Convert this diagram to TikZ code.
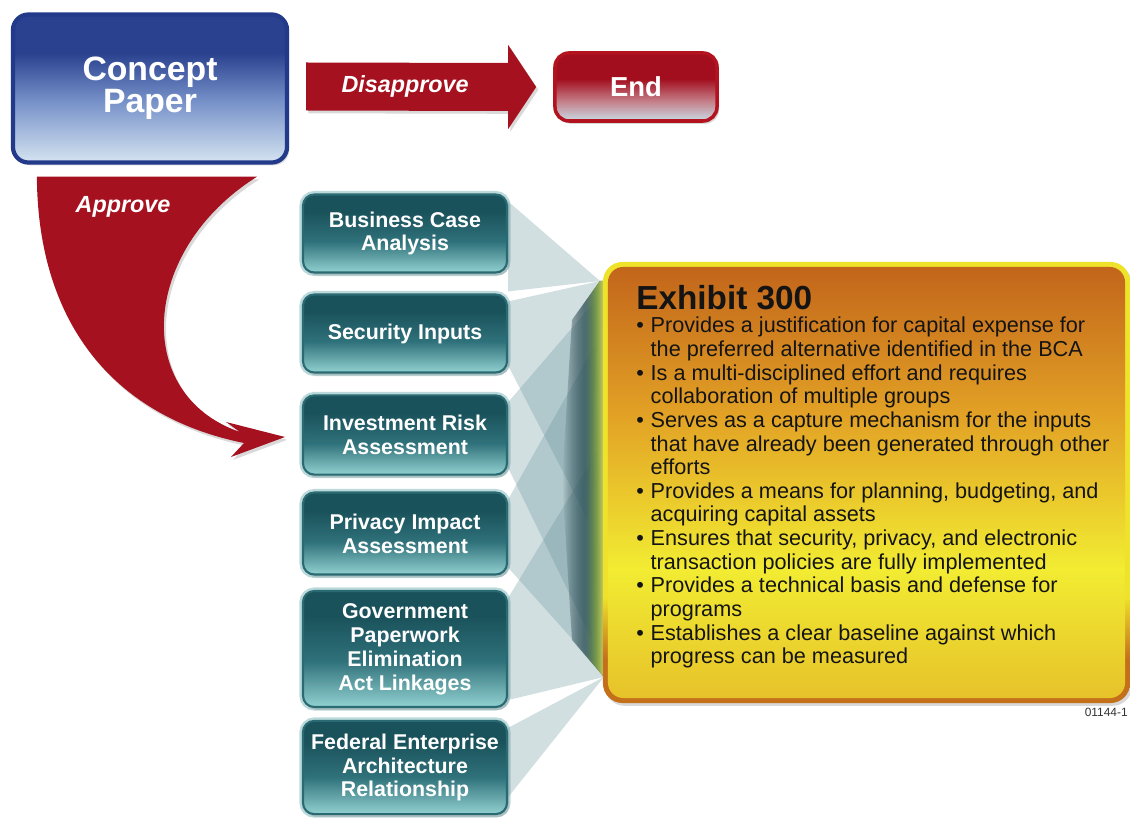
\documentclass[tikz,border=0pt]{standalone}
\usepackage{fontspec}
\setmainfont{Liberation Sans}
\usetikzlibrary{calc,shadows,fadings}

\definecolor{cpdark}{HTML}{2A418F}
\definecolor{cpmid}{HTML}{7590C8}
\definecolor{cplight}{HTML}{D5E4F1}
\definecolor{cpedge}{HTML}{23398A}
\definecolor{arrred}{HTML}{A5111F}
\definecolor{enddark}{HTML}{A20E1E}
\definecolor{endpink}{HTML}{C47C86}
\definecolor{endlight}{HTML}{C9DCE6}
\definecolor{endedge}{HTML}{B3121F}
\definecolor{tldark}{HTML}{1A525B}
\definecolor{tlmid}{HTML}{2F717A}
\definecolor{tllight}{HTML}{92D1D1}
\definecolor{tledge}{HTML}{2A6A72}
\definecolor{tlhalo}{HTML}{BBD9DB}
\definecolor{exorange}{HTML}{C2651B}
\definecolor{examber}{HTML}{E2A125}
\definecolor{exyellow}{HTML}{F2EC32}
\definecolor{exgold}{HTML}{E6C22A}
\definecolor{rimyellow}{HTML}{EEE22A}
\definecolor{rimorange}{HTML}{C4701A}
\definecolor{raycol}{HTML}{5D8C95}
\definecolor{glowteal}{HTML}{3E7580}
\definecolor{glowgreen}{HTML}{8DBA52}
\definecolor{glowyellow}{HTML}{ECE26A}
\definecolor{extxt}{HTML}{141414}

\pgfdeclareverticalshading{conceptshade}{100bp}{color(0bp)=(cplight); color(25bp)=(cplight); color(46bp)=(cpmid); color(62bp)=(cpdark); color(100bp)=(cpdark)}
\pgfdeclareverticalshading{endshade}{100bp}{color(0bp)=(endlight); color(25bp)=(endlight); color(40bp)=(endpink); color(56bp)=(enddark); color(100bp)=(enddark)}
\pgfdeclareverticalshading{tealshade}{100bp}{color(0bp)=(tllight); color(25bp)=(tllight); color(45bp)=(tlmid); color(64bp)=(tldark); color(100bp)=(tldark)}
\pgfdeclareverticalshading{exhibitshade}{100bp}{color(0bp)=(exgold); color(25bp)=(exgold); color(40bp)=(exyellow); color(58bp)=(examber); color(75bp)=(exorange); color(100bp)=(exorange)}
\pgfdeclareverticalshading{rimshade}{100bp}{color(0bp)=(rimorange); color(25bp)=(rimorange); color(30bp)=(rimorange); color(37bp)=(rimyellow); color(100bp)=(rimyellow)}
\pgfdeclarehorizontalshading{glowshade}{100bp}{color(0bp)=(glowteal); color(25bp)=(glowteal); color(50bp)=(glowteal); color(63bp)=(glowgreen); color(75bp)=(glowyellow); color(100bp)=(glowyellow)}
\tikzfading[name=glowfade, left color=transparent!100, middle color=transparent!55, right color=transparent!0]

\newcommand{\bitem}{\makebox[0.36cm][l]{\textbullet}}
\newcommand{\bcont}{\hspace*{0.36cm}}

\begin{document}
\begin{tikzpicture}[
  x=0.025cm, y=-0.025cm,
  softshadow/.style={drop shadow={shadow xshift=1.5pt, shadow yshift=-2pt, opacity=0.3}},
  conceptbox/.style={rectangle, draw=cpedge, line width=3pt, rounded corners=11pt,
    shade, shading=conceptshade, minimum width=6.85cm, minimum height=3.7cm,
    align=center, text=white, font=\fontsize{24}{21}\selectfont\bfseries, softshadow},
  endbox/.style={rectangle, draw=endedge, line width=2.5pt, rounded corners=10pt,
    shade, shading=endshade, minimum width=4.05cm, minimum height=1.7cm,
    text=white, font=\fontsize{19.5}{20}\selectfont\bfseries, softshadow},
  inputbox/.style={rectangle, draw=tledge, line width=1.5pt, rounded corners=8pt,
    preaction={draw=tlhalo, line width=5pt}, shade, shading=tealshade,
    minimum width=5.1cm, inner sep=2pt, align=center, text=white,
    font=\fontsize{15.2}{17}\selectfont\bfseries, softshadow},
  rimbox/.style={rectangle, rounded corners=14pt, shade, shading=rimshade,
    minimum width=13.175cm, minimum height=11.025cm, softshadow},
  exhibitbox/.style={rectangle, rounded corners=11pt, shade, shading=exhibitshade,
    minimum width=12.925cm, minimum height=10.775cm},
  redshape/.style={fill=arrred, softshadow},
  rayfan/.style={fill=raycol, fill opacity=0.28},
  lbl/.style={text=white, font=\fontsize{16.6}{17}\selectfont\bfseries\itshape}
]
\useasboundingbox (0,0) rectangle (1130,819);

% Concept paper and the two outcomes
\node[conceptbox] (concept) at (150,88.5) {Concept\\Paper};
\node[endbox] (endn) at (636,87) {End};

% Disapprove arrow
\coordinate (d0) at ($(concept.east)+(17,-2)$);
\coordinate (d1) at ($(endn.west)+(-17,0)$);
\fill[redshape] ($(d0)+(0,-24)$) -- ($(d1)+(-28,-24)$) -- ($(d1)+(-28,-42)$) -- (d1)
  -- ($(d1)+(-28,42)$) -- ($(d1)+(-28,24)$) -- ($(d0)+(0,24)$) -- cycle;
\node[lbl] (distext) at ($(d0)!0.43!(d1)$) {Disapprove};

% Inputs
\node[inputbox, minimum height=1.95cm] (bca) at (405,233.5) {Business Case\\Analysis};
\node[inputbox, minimum height=1.95cm] (sec) at (405,333.5) {Security Inputs};
\node[inputbox, minimum height=1.98cm] (irisk) at (405,435) {Investment Risk\\Assessment};
\node[inputbox, minimum height=2.05cm] (pia) at (405,533.5) {Privacy Impact\\Assessment};
\node[inputbox, minimum height=2.9cm] (gpea) at (405,649) {Government\\Paperwork\\Elimination\\Act Linkages};
\node[inputbox, minimum height=2.33cm] (fea) at (405,767.5) {Federal Enterprise\\Architecture\\Relationship};

% Approve arrow
\fill[redshape] ($(concept.south west)+(26,12)$) -- ($(concept.south east)+(-32,12)$)
  .. controls (140,250) and (132,395) .. (240,432) -- (226,422) -- (285,437)
  -- (231,457) -- (244,443) .. controls (120,418) and (38,330) .. ($(concept.south west)+(26,12)$) -- cycle;
\node[lbl] (apptext) at (123,207) {Approve};

% Rays into Exhibit 300
\coordinate (apextop) at (600,281);
\coordinate (apexbot) at (604,677);
\fill[rayfan] ($(bca.north east)+(0,8)$) -- (apextop) -- ($(sec.north east)+(0,-2)$) -- cycle;
\fill[rayfan] ($(sec.north east)+(0,8)$) -- (apextop) -- (588,520) -- ($(sec.south east)+(0,-8)$) -- cycle;
\fill[rayfan] ($(irisk.north east)+(0,8)$) -- (596,300) -- (592,640) -- ($(irisk.south east)+(0,-8)$) -- cycle;
\fill[rayfan] ($(pia.north east)+(0,8)$) -- (598,340) -- (600,670) -- ($(pia.south east)+(0,-8)$) -- cycle;
\fill[rayfan] ($(gpea.north east)+(0,8)$) -- (598,450) -- (apexbot) -- ($(gpea.south east)+(0,-8)$) -- cycle;
\fill[rayfan] ($(fea.north east)+(0,8)$) -- (apexbot) -- ($(fea.south east)+(0,-18)$) -- cycle;
\fill[shade, shading=glowshade, path fading=glowfade] (apextop) -- (606,281) -- (606,677)
  -- (apexbot) -- (572,640) -- (562,480) -- (572,320) -- cycle;

% Exhibit 300
\node[rimbox] (exrim) at (866.5,482.5) {};
\node[exhibitbox] (exhibit) at (exrim.center) {};
\node[anchor=base west, inner sep=0, text=extxt, font=\fontsize{23.7}{24}\selectfont\bfseries] (extitle) at (636,310) {Exhibit 300};
\node[anchor=north west, inner sep=0, align=left, text=extxt, font=\fontsize{15.4}{16.8}\selectfont] (exlist) at (636,317) {%
\bitem Provides a justification for capital expense for\\
\bcont the preferred alternative identified in the BCA\\
\bitem Is a multi-disciplined effort and requires\\
\bcont collaboration of multiple groups\\
\bitem Serves as a capture mechanism for the inputs\\
\bcont that have already been generated through other\\
\bcont efforts\\
\bitem Provides a means for planning, budgeting, and\\
\bcont acquiring capital assets\\
\bitem Ensures that security, privacy, and electronic\\
\bcont transaction policies are fully implemented\\
\bitem Provides a technical basis and defense for\\
\bcont programs\\
\bitem Establishes a clear baseline against which\\
\bcont progress can be measured};
\node[anchor=north east, inner sep=0, text=black!80, font=\fontsize{8.5}{9}\selectfont] (figid) at (1128,708) {01144-1};

\end{tikzpicture}
\end{document}
